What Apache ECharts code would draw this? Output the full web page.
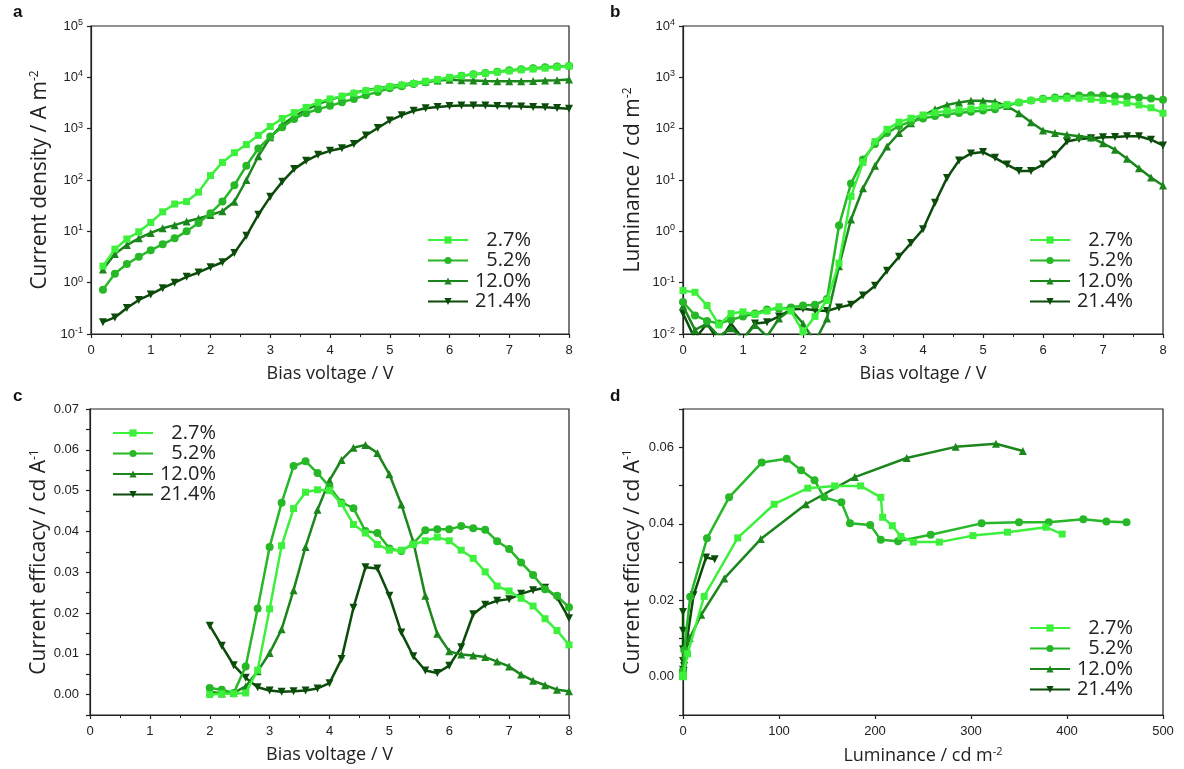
<!DOCTYPE html>
<html>
<head>
<meta charset="utf-8">
<script src="https://cdn.jsdelivr.net/npm/echarts@6/dist/echarts.min.js"></script>
<style>html,body{margin:0;padding:0;background:#fff;}#c{width:1184px;height:769px;}</style>
</head>
<body>
<div id="c"></div>
<script>
// ---------- data ----------
const seriesNames = ['2.7%', '5.2%', '12.0%', '21.4%'];

// Panel a: current density (A m^-2) vs bias voltage
const V_A = [0.2,0.4,0.6,0.8,1.0,1.2,1.4,1.6,1.8,2.0,2.2,2.4,2.6,2.8,3.0,3.2,3.4,3.6,3.8,4.0,4.2,4.4,4.6,4.8,5.0,5.2,5.4,5.6,5.8,6.0,6.2,6.4,6.6,6.8,7.0,7.2,7.4,7.6,7.8,8.0];
const J_27 = [2.1,4.5,7.1,9.8,14.9,24,34,38,58,122,220,340,490,740,1100,1580,2050,2600,3250,3800,4300,4900,5500,6000,6600,7100,7600,8400,9100,10000,10700,11300,12000,12700,13300,14000,14500,15100,15800,16600];
const J_52 = [0.73,1.5,2.3,3.2,4.3,5.6,7.3,10,14.5,22.6,38,79,190,410,700,1070,1550,2000,2400,2780,3270,3800,4470,5200,6100,6700,7400,8000,8700,9600,10700,11500,12200,12900,13700,14300,15000,15700,16200,16600];
const J_120 = [1.8,3.6,5.4,7.3,9.3,11.5,13.2,15.6,17.8,20.8,24.7,37.7,100,290,680,1180,1740,2330,3000,3640,4330,5000,5630,6150,6700,7250,7800,8300,8700,8950,8800,8700,8500,8400,8400,8400,8500,8700,8800,9100];
const J_214 = [0.17,0.21,0.32,0.46,0.59,0.78,1.0,1.3,1.58,2.0,2.5,3.8,8.2,21,47,92,163,236,310,370,415,500,735,1030,1440,1830,2230,2500,2650,2770,2820,2820,2820,2770,2730,2700,2650,2600,2520,2450];

// Panel b: luminance (cd m^-2) vs bias voltage
const V_B = [0.0,0.2,0.4,0.6,0.8,1.0,1.2,1.4,1.6,1.8,2.0,2.2,2.4,2.6,2.8,3.0,3.2,3.4,3.6,3.8,4.0,4.2,4.4,4.6,4.8,5.0,5.2,5.4,5.6,5.8,6.0,6.2,6.4,6.6,6.8,7.0,7.2,7.4,7.6,7.8,8.0];
const L_27 = [0.07,0.065,0.036,0.015,0.025,0.027,0.024,0.028,0.034,0.028,0.011,0.022,0.045,0.24,4.8,22,56,97,134,160,185,205,222,232,243,263,278,295,325,355,375,386,390,390,375,355,333,315,290,255,200];
const L_52 = [0.042,0.023,0.018,0.016,0.019,0.022,0.025,0.03,0.031,0.033,0.036,0.037,0.048,1.3,8.5,25,50,82,113,137,158,176,190,202,214,225,240,278,325,355,382,405,425,445,450,445,430,420,405,387,365];
const L_120 = [0.035,0.012,0.016,0.009,0.013,0.008,0.015,0.009,0.02,0.03,0.016,0.007,0.02,0.21,1.7,6.9,19,45,82,128,177,238,290,325,350,350,335,275,200,133,92,82,76,71,67,52,39,26,17,11.2,7.8];
const L_214 = [0.025,0.008,0.016,0.007,0.016,0.008,0.016,0.017,0.022,0.03,0.031,0.029,0.028,0.033,0.037,0.056,0.087,0.17,0.32,0.59,1.1,3.6,11,24,33,35,27,20,15,15,20,31,56,63,65,68,69,71,71,61,47];

// Panel c: current efficacy (cd A^-1) vs bias voltage
const V_C = [2.0,2.2,2.4,2.6,2.8,3.0,3.2,3.4,3.6,3.8,4.0,4.2,4.4,4.6,4.8,5.0,5.2,5.4,5.6,5.8,6.0,6.2,6.4,6.6,6.8,7.0,7.2,7.4,7.6,7.8,8.0];
const CE_27 = [0.0,0.0002,0.0002,0.0004,0.006,0.021,0.0365,0.0456,0.0496,0.0502,0.050,0.0468,0.0417,0.0396,0.0368,0.0354,0.0354,0.0368,0.0377,0.0386,0.0377,0.0354,0.0334,0.0301,0.0266,0.0254,0.0236,0.0217,0.0186,0.0157,0.0122];
const CE_52 = [0.0016,0.0012,0.0004,0.0069,0.0211,0.0362,0.047,0.056,0.0572,0.0543,0.0509,0.0471,0.0457,0.0401,0.0396,0.0358,0.0352,0.037,0.0403,0.0405,0.0405,0.0413,0.0408,0.0404,0.0376,0.0357,0.0324,0.0293,0.0258,0.0242,0.0214];
const CE_120 = [0.0007,0.0003,0.0004,0.002,0.0057,0.0102,0.016,0.0256,0.0362,0.0453,0.0525,0.0575,0.0605,0.0612,0.0592,0.054,0.0466,0.0374,0.0242,0.0149,0.0106,0.0098,0.0096,0.0092,0.0081,0.0069,0.0049,0.0034,0.0023,0.0012,0.0008];
const CE_214 = [0.0169,0.012,0.0072,0.0041,0.0018,0.001,0.0007,0.0008,0.001,0.0015,0.0028,0.0087,0.0213,0.0312,0.0309,0.0242,0.0152,0.0094,0.0059,0.0053,0.0071,0.0116,0.0197,0.022,0.023,0.0234,0.0247,0.0256,0.0262,0.0238,0.0187];

// Panel d: current efficacy vs luminance
const D_L_27 = [0.01,0.02,0.03,0.24,4.8,22,57,95,130,158,185,206,208,218,227,240,267,302,338,378,395];
const D_CE_27 = [0,0.0002,0.0002,0.0004,0.006,0.021,0.0363,0.0451,0.0493,0.0499,0.0499,0.0469,0.0417,0.0395,0.0367,0.0352,0.0352,0.0369,0.0378,0.0391,0.0373];
const D_L_52 = [0.036,0.037,0.048,1.3,7.5,25,48,82,108,123,137,147,165,174,195,206,224,258,311,350,381,417,441,462];
const D_CE_52 = [0.0016,0.0012,0.0004,0.0069,0.0209,0.0362,0.0469,0.056,0.057,0.054,0.0514,0.0469,0.0456,0.0401,0.0397,0.0358,0.0354,0.0371,0.0401,0.0404,0.0404,0.0412,0.0406,0.0404];
const D_L_120 = [0.016,0.007,0.02,0.21,1.7,7,19,43,81,128,179,233,284,326,354];
const D_CE_120 = [0.0007,0.0003,0.0004,0.002,0.0057,0.0101,0.0162,0.0257,0.036,0.0451,0.0522,0.0572,0.0601,0.0609,0.059];
const D_L_214 = [0.031,0.029,0.028,0.033,0.037,0.056,0.087,0.17,0.32,0.59,1.1,3.6,11,24,33];
const D_CE_214 = [0.0169,0.012,0.0072,0.0041,0.0018,0.001,0.0007,0.0008,0.001,0.0015,0.0028,0.0087,0.0213,0.0312,0.0307];

// ---------- styling ----------
const colors = ['#3cf03c', '#27b827', '#1b861b', '#0b4c0b'];
const DOWN_TRI = 'path://M0,0 L10,0 L5,9 Z';
const symbols = ['rect', 'circle', 'triangle', DOWN_TRI];
const symSizes = [7, 8, 8, 8];
const TICK_FONT = 'Liberation Sans';
const NAME_FONT = 'Open Sans';

function zip(a, b) { return a.map((v, i) => [v, b[i]]); }

const grids = [
  { left: 91, top: 26, width: 478, height: 308 },
  { left: 683, top: 26, width: 480, height: 308 },
  { left: 90, top: 409, width: 479, height: 306 },
  { left: 683, top: 409, width: 480, height: 306 }
].map(g => Object.assign(g, { show: true, borderColor: '#222', borderWidth: 1.2, containLabel: false }));

const axisLineStyle = { show: true, onZero: false, lineStyle: { color: '#222', width: 1.2 } };
const tickLabel = { color: '#222', fontFamily: TICK_FONT, fontSize: 13, margin: 10 };
const xNameStyle = { color: '#222', fontFamily: NAME_FONT, fontSize: 18,
  rich: { sup: { fontSize: 11, fontFamily: NAME_FONT, color: '#222', verticalAlign: 'top', padding: [0, 0, 9, 0] } } };
const yNameStyle = { color: '#222', fontFamily: NAME_FONT, fontSize: 21,
  rich: { sup: { fontSize: 12, fontFamily: NAME_FONT, color: '#222', verticalAlign: 'top', padding: [0, 0, 10, 0] } } };

function voltAxis(gi, gap) {
  return {
    type: 'value', gridIndex: gi, min: 0, max: 8, interval: 1,
    name: 'Bias voltage / V', nameLocation: 'middle', nameGap: gap,
    nameTextStyle: xNameStyle,
    axisLine: axisLineStyle,
    axisTick: { show: true, inside: false, length: 4, lineStyle: { color: '#222', width: 1.2 } },
    minorTick: { show: true, splitNumber: 2, length: 3, lineStyle: { color: '#222', width: 1 } },
    axisLabel: Object.assign({}, tickLabel, { margin: 10 }),
    splitLine: { show: false }, minorSplitLine: { show: false }
  };
}

function logLabel(v) {
  const e = Math.round(Math.log10(v));
  return '{b|10}{s|' + e + '}';
}
const logRich = {
  b: { fontFamily: TICK_FONT, fontSize: 13, color: '#222', lineHeight: 16 },
  s: { fontFamily: TICK_FONT, fontSize: 9, color: '#222', lineHeight: 16, verticalAlign: 'top', padding: [0, 0, 6, 0] }
};

function logAxis(gi, min, max, name, gap) {
  return {
    type: 'log', logBase: 10, gridIndex: gi, min: min, max: max, splitNumber: 6,
    name: name, nameLocation: 'middle', nameGap: gap, nameTextStyle: yNameStyle,
    axisLine: axisLineStyle,
    axisTick: { show: true, inside: false, length: 4, lineStyle: { color: '#222', width: 1.2 } },
    axisLabel: { formatter: logLabel, rich: logRich, margin: 8 },
    splitLine: { show: false }
  };
}

const yAxes = [
  logAxis(0, 0.1, 100000, 'Current density / A m{sup|-2}', 40),
  logAxis(1, 0.01, 10000, 'Luminance / cd m{sup|-2}', 39),
  {
    type: 'value', gridIndex: 2, min: -0.005, max: 0.07, interval: 0.005,
    name: 'Current efficacy / cd A{sup|-1}', nameLocation: 'middle', nameGap: 37, nameTextStyle: yNameStyle,
    axisLine: axisLineStyle,
    axisTick: { show: true, inside: false, length: 4, lineStyle: { color: '#222', width: 1.2 } },
    axisLabel: Object.assign({}, tickLabel, {
      margin: 11,
      formatter: v => {
        const k = Math.round(v * 1000);
        return (k >= 0 && k % 10 === 0) ? (k / 1000).toFixed(2) : '';
      }
    }),
    splitLine: { show: false }
  },
  {
    type: 'value', gridIndex: 3, min: -0.01, max: 0.07, interval: 0.01,
    name: 'Current efficacy / cd A{sup|-1}', nameLocation: 'middle', nameGap: 39, nameTextStyle: yNameStyle,
    axisLine: axisLineStyle,
    axisTick: { show: true, inside: false, length: 4, lineStyle: { color: '#222', width: 1.2 } },
    axisLabel: Object.assign({}, tickLabel, {
      margin: 9,
      formatter: v => {
        const k = Math.round(v * 100);
        return (k >= 0 && k <= 6 && k % 2 === 0) ? (k / 100).toFixed(2) : '';
      }
    }),
    splitLine: { show: false }
  }
];

const xAxes = [
  voltAxis(0, 31), voltAxis(1, 31), voltAxis(2, 31),
  {
    type: 'value', gridIndex: 3, min: 0, max: 500, interval: 100,
    name: 'Luminance / cd m{sup|-2}', nameLocation: 'middle', nameGap: 31, nameTextStyle: xNameStyle,
    axisLine: axisLineStyle,
    axisTick: { show: true, inside: false, length: 4, lineStyle: { color: '#222', width: 1.2 } },
    axisLabel: Object.assign({}, tickLabel, { margin: 10 }),
    splitLine: { show: false }
  }
];

const panelData = [
  [zip(V_A, J_27), zip(V_A, J_52), zip(V_A, J_120), zip(V_A, J_214)],
  [zip(V_B, L_27), zip(V_B, L_52), zip(V_B, L_120), zip(V_B, L_214)],
  [zip(V_C, CE_27), zip(V_C, CE_52), zip(V_C, CE_120), zip(V_C, CE_214)],
  [zip(D_L_27, D_CE_27), zip(D_L_52, D_CE_52), zip(D_L_120, D_CE_120), zip(D_L_214, D_CE_214)]
];

const series = [];
panelData.forEach((arr, p) => {
  arr.forEach((data, i) => {
    series.push({
      id: 'p' + p + 's' + i,
      name: seriesNames[i],
      type: 'line', xAxisIndex: p, yAxisIndex: p,
      data: data, clip: true,
      symbol: symbols[i], symbolSize: symSizes[i], showSymbol: true,
      lineStyle: { color: colors[i], width: 2.5 },
      itemStyle: { color: colors[i] },
      z: 10 - i,
      animation: false
    });
  });
});

const legendPos = [
  { left: 427, top: 230 },
  { left: 1029, top: 230 },
  { left: 112, top: 423 },
  { left: 1029, top: 618 }
];
const legends = legendPos.map((pos, p) => ({
  left: pos.left, top: pos.top, orient: 'vertical',
  itemWidth: 40, itemHeight: 9, itemGap: 0.5, padding: 0,
  data: seriesNames.map(n => ({ name: n })),
  formatter: n => '{r|' + n + '}',
  textStyle: { color: '#222', fontFamily: NAME_FONT, fontSize: 20, lineHeight: 19.5,
    rich: { r: { width: 58, align: 'right', fontFamily: NAME_FONT, fontSize: 20, lineHeight: 19.5, color: '#222' } } },
  selectedMode: false
}));

const letters = [['a', 13, 4], ['b', 610, 4], ['c', 13, 388], ['d', 610, 388]];

const chart = echarts.init(document.getElementById('c'), null, { renderer: 'canvas' });
chart.setOption({
  animation: false,
  backgroundColor: '#fff',
  grid: grids,
  xAxis: xAxes,
  yAxis: yAxes,
  legend: legends,
  series: series,
  graphic: letters.map(l => ({
    type: 'text', left: l[1], top: l[2],
    style: { text: l[0], font: 'bold 17px "Liberation Sans"', fill: '#111' }
  }))
});
</script>
</body>
</html>
